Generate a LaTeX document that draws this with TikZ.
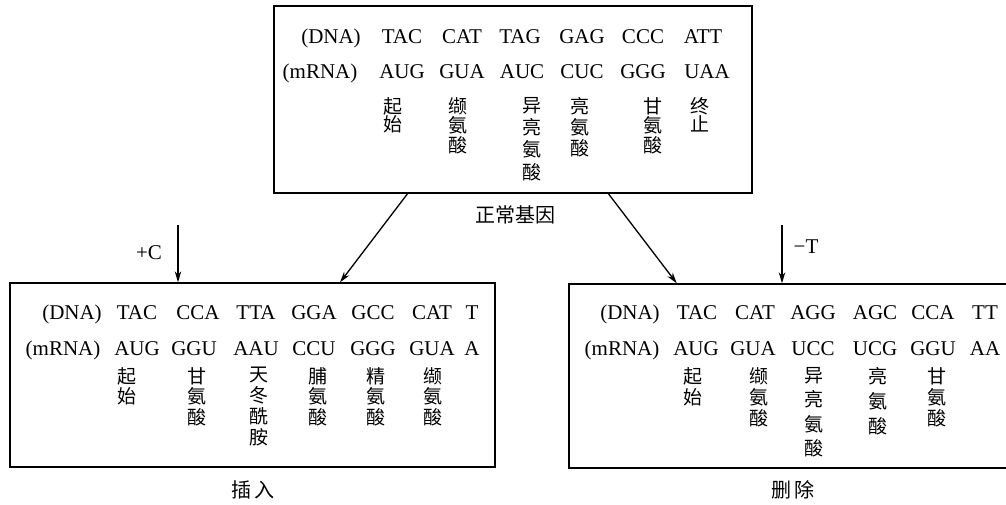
\documentclass[tikz,border=0pt]{standalone}
\usepackage{fontspec}
\setmainfont{Liberation Serif}
\newfontfamily\cjk{Noto Sans CJK SC}
\usetikzlibrary{arrows.meta,calc}
\begin{document}
\begin{tikzpicture}[x=1pt,y=-1pt,
  box/.style={draw, line width=1.4pt, inner sep=0},
  seq/.style={font=\fontsize{21}{21}\selectfont, inner sep=0, anchor=base},
  aa/.style={font=\cjk\fontsize{19}{#1}\selectfont, align=center, inner sep=0, anchor=north},
  aa/.default=20,
  lbl/.style={font=\cjk\fontsize{20}{20}\selectfont, inner sep=0},
  mut/.style={font=\fontsize{21}{21}\selectfont, inner sep=0},
  arr/.style={-{Stealth[length=11pt,width=6.5pt]}, line width=1.3pt}]
\useasboundingbox (0,0) rectangle (1006,505);

% boxes
\node[box, minimum width=478pt, minimum height=187pt] (top) at (513,99.5) {};
\node[box, minimum width=485pt, minimum height=184pt] (left) at (252.5,375) {};
\node[box, minimum width=443pt, minimum height=184pt] (right) at (790.5,376) {};

% top box text
\foreach \x/\t [count=\i] in {331/(DNA),402/TAC,462/CAT,520/TAG,582/GAG,643/CCC,703/ATT}
  \node[seq] (td\i) at (\x,44) {\t};
\foreach \x/\t [count=\i] in {320/(mRNA),402/AUG,462/GUA,522/AUC,582/CUC,643/GGG,707/UAA}
  \node[seq] (tm\i) at (\x,79) {\t};
\foreach \x/\t/\s [count=\i] in {393/起\\始/18,458/缬\\氨\\酸/19.5,532/异\\亮\\氨\\酸/22.3,580/亮\\氨\\酸/21,653/甘\\氨\\酸/19.5,700/终\\止/18}
  \node[aa=\s] (ta\i) at (\x,97) {\t};

% left box text
\foreach \x/\t [count=\i] in {72/(DNA),137/TAC,198/CCA,256/TTA,314/GGA,373/GCC,432/CAT,472/T}
  \node[seq] (ld\i) at (\x,319) {\t};
\foreach \x/\t [count=\i] in {63/(mRNA),137/AUG,194/GGU,256/AAU,314/CCU,373/GGG,432/GUA,472/A}
  \node[seq] (lm\i) at (\x,355) {\t};
\foreach \x/\t [count=\i] in {127/起\\始,197/甘\\氨\\酸,259/天\\冬\\酰\\胺,318/脯\\氨\\酸,376/精\\氨\\酸,433/缬\\氨\\酸}
  \node[aa=20.8] (la\i) at (\x,367) {\t};

% right box text
\foreach \x/\t [count=\i] in {630/(DNA),697/TAC,755/CAT,813/AGG,875/AGC,933/CCA,985/TT}
  \node[seq] (rd\i) at (\x,319) {\t};
\foreach \x/\t [count=\i] in {622/(mRNA),696/AUG,753/GUA,813/UCC,875/UCG,933/GGU,985/AA}
  \node[seq] (rm\i) at (\x,355) {\t};
\foreach \x/\t/\s [count=\i] in {693/起\\始/21,759/缬\\氨\\酸/21,814/异\\亮\\氨\\酸/24.4,878/亮\\氨\\酸/25,937/甘\\氨\\酸/21}
  \node[aa=\s] (ra\i) at (\x,367) {\t};

% labels
\node[lbl] (lnormal) at (515,215) {正常基因};
\node[lbl] (lins) at (253,490) {插\hspace{3pt}入};
\node[lbl] (ldel) at (793,490) {删\hspace{3pt}除};
\node[mut] (plusC) at (149,253) {+C};
\node[mut] (minusT) at (806,247) {−T};

% connectors
\draw[arr] ($(top.south west)!0.280!(top.south east)$) -- ($(left.north west)!0.680!(left.north east)$);
\draw[arr] ($(top.south west)!0.699!(top.south east)$) -- ($(right.north west)!0.244!(right.north east)$);
\coordinate (cins) at (178,225);
\coordinate (cdel) at (782,225);
\draw[arr] (cins) -- (cins |- left.north);
\draw[arr] (cdel) -- (cdel |- right.north);
\end{tikzpicture}
\end{document}
